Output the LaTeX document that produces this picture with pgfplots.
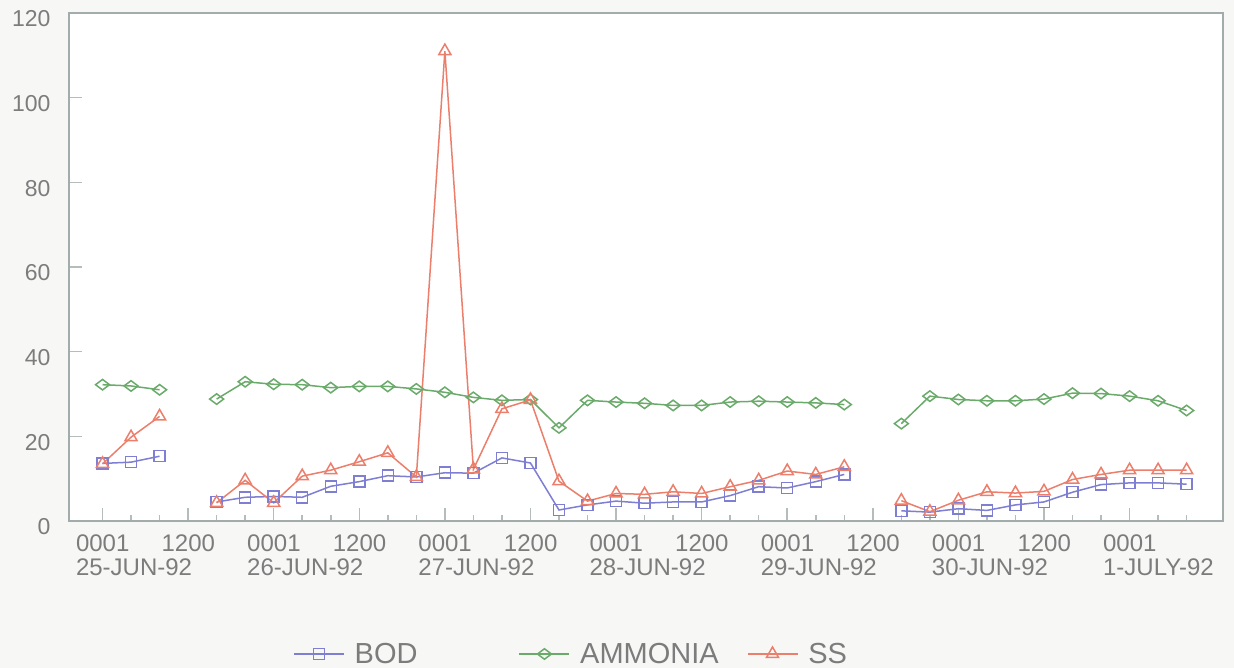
\documentclass[border=0pt]{standalone}
\usepackage{fontspec}
\setmainfont{Liberation Sans}
\usepackage{pgfplots}
\usepackage{pgfplotstable}
\pgfplotsset{compat=1.18}

\definecolor{bodc}{HTML}{7E7ED2}
\definecolor{ammc}{HTML}{6AAA6A}
\definecolor{ssc}{HTML}{EC7E6C}
\definecolor{framec}{HTML}{A2ACAC}
\definecolor{tickc}{HTML}{B4BCBC}
\definecolor{labc}{HTML}{7C7C7C}
\definecolor{pagec}{HTML}{F7F8F6}

% hours after 0001 25-JUN-92, samples every 4 h; nan = no sample
\pgfplotstableread{
h    bod   amm   ss
0    13.6  32.2  13.5
4    13.9  31.9  19.8
8    15.3  31.0  24.7
12   nan   nan   nan
16   4.5   28.8  4.3
20   5.6   32.9  9.6
24   5.8   32.3  4.3
28   5.6   32.2  10.6
32   8.2   31.5  12.0
36   9.3   31.8  14.0
40   10.7  31.8  16.1
44   10.4  31.2  10.4
48   11.4  30.4  111.0
52   11.3  29.2  12.2
56   14.9  28.5  26.5
60   13.7  28.7  28.6
64   2.6   22.0  9.4
68   3.8   28.5  4.7
72   4.7   28.1  6.5
76   4.2   27.8  6.3
80   4.5   27.3  6.9
84   4.5   27.3  6.5
88   6.0   28.1  8.1
92   8.1   28.3  9.6
96   7.8   28.1  11.8
100  9.3   27.9  11.0
104  11.0  27.5  12.8
108  nan   nan   nan
112  2.4   23.0  4.8
116  2.1   29.5  2.2
120  2.9   28.7  4.9
124  2.5   28.4  6.9
128  3.8   28.4  6.6
132  4.5   28.8  7.0
136  6.8   30.2  9.8
140  8.6   30.1  11.0
144  9.0   29.5  12.0
148  9.0   28.4  12.0
152  8.7   26.1  12.0
}\data

\begin{document}
\begin{tikzpicture}
\useasboundingbox (-69pt,-147pt) rectangle (1165pt,521pt);
\fill[pagec] (-69pt,-147pt) rectangle (1165pt,521pt);
\begin{axis}[
    scale only axis,
    width=1154pt, height=508pt,
    xmin=-4.7, xmax=157.1,
    ymin=0, ymax=120,
    axis background/.style={fill=white},
    unbounded coords=jump,
    axis line style={draw=framec, line width=2pt},
    tick align=inside,
    xtick pos=bottom, ytick pos=left,
    xtick={0,12,...,144},
    minor xtick={4,8,16,20,28,32,40,44,52,56,64,68,76,80,88,92,100,104,112,116,124,128,136,140,148,152},
    ytick={0,20,...,120},
    major tick length=13pt,
    minor tick length=6pt,
    tick style={draw=tickc, line width=1.5pt},
    xticklabels={{0001\\25-JUN-92},1200,{0001\\26-JUN-92},1200,{0001\\27-JUN-92},1200,
                 {0001\\28-JUN-92},1200,{0001\\29-JUN-92},1200,{0001\\30-JUN-92},1200,{0001\\1-JULY-92}},
    x tick label style={font=\fontsize{24}{24}\selectfont, text=labc, align=left,
                        anchor=north west, xshift=-30pt, yshift=-10pt},
    y tick label style={font=\fontsize{23}{25}\selectfont, text=labc, xshift=-15pt, yshift=-6pt},
    /pgf/number format/assume math mode=true,
    legend columns=3,
    legend style={at={(0.1941,-0.2618)}, anchor=west, draw=none, fill=none,
                  font=\fontsize{29}{32}\selectfont, text=labc, inner sep=0pt,
                  /tikz/column 2/.style={column sep=0pt},
                  /tikz/column 4/.style={column sep=26pt}},
    legend image code/.code={\draw[mark repeat=2,mark phase=2,#1]
        plot coordinates {(0pt,0pt) (25pt,0pt) (50pt,0pt)};},
]
\addplot[color=bodc, line width=1.5pt, mark=square, mark size=5.5pt,
         mark options={solid, line width=1.5pt}] table[x=h, y=bod] {\data};
\addlegendentry{\hspace{8pt}\makebox[162pt][l]{BOD}}
\addplot[color=ammc, line width=1.5pt, mark=diamond, mark size=7pt,
         mark options={solid, rotate=90, line width=1.5pt}] table[x=h, y=amm] {\data};
\addlegendentry{\hspace{8pt}AMMONIA}
\addplot[color=ssc, line width=1.5pt, mark=triangle, mark size=7pt,
         mark options={solid, line width=1.5pt}] table[x=h, y=ss] {\data};
\addlegendentry{\hspace{8pt}SS}
\end{axis}
\end{tikzpicture}
\end{document}
